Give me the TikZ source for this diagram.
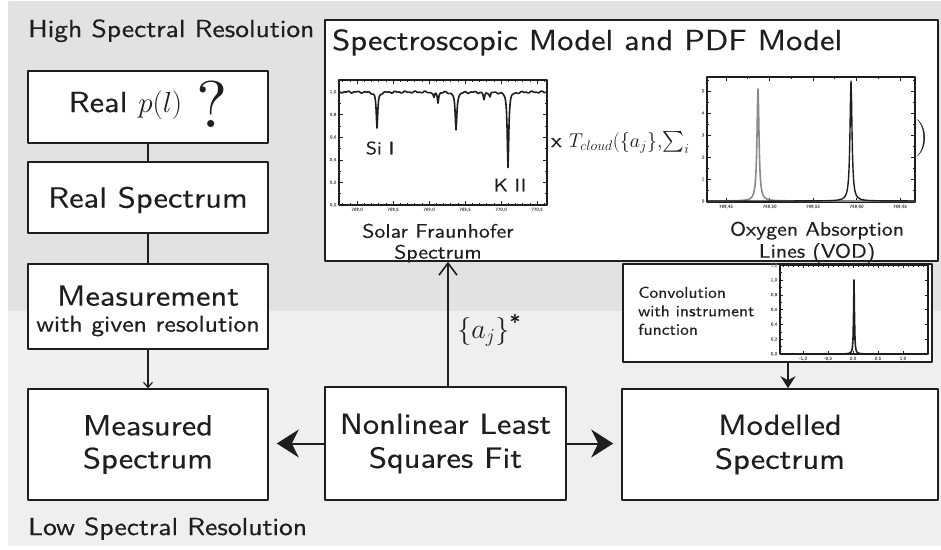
\RequirePackage{fix-cm}
\documentclass[tikz,border=0pt]{standalone}
\usepackage{exscale}
\usepackage{fontspec}
\setsansfont{lmsans10-regular.otf}[FakeStretch=1.12,FakeBold=0.35]
\setmainfont{lmroman10-regular.otf}
\renewcommand{\familydefault}{\sfdefault}
\usetikzlibrary{arrows.meta}
\definecolor{bandhi}{HTML}{E1E2E4}
\definecolor{bandlo}{HTML}{EEEFF1}
\definecolor{ink}{HTML}{1E1E1E}
\definecolor{ticktext}{HTML}{666666}
\definecolor{peakgray}{HTML}{8A8A8A}
\newcommand{\fsz}[2]{\fontsize{#1}{#2}\selectfont}
\begin{document}
\begin{tikzpicture}[x=1pt,y=-1pt,line join=round,
  declare function={lor(\dd,\ww)=\ww*\ww/(\ww*\ww+\dd*\dd);},
  box/.style={draw=ink,line width=1.6pt,fill=white,inner sep=0pt,align=center,text=ink},
  lbl/.style={inner sep=0pt,text=ink},
  conn/.style={draw=ink,line width=1.3pt},
  thinarrow/.style={draw=ink,line width=1.2pt,-{Straight Barb[length=5pt,width=9pt]}},
  uparrow/.style={draw=ink,line width=1.6pt,-{Straight Barb[length=12pt,width=18pt]}},
  convarrow/.style={draw=ink,line width=2pt,-{Stealth[length=12pt,width=15pt,inset=4pt]}},
  bigarrow/.style={draw=ink,line width=2pt,-{Stealth[length=22pt,width=28pt,inset=7pt]},shorten >=8pt},
  frame/.style={draw=ink,line width=1.1pt},
  tick/.style={draw=ink,line width=0.6pt},
  ticklab/.style={inner sep=0.5pt,text=ticktext,font=\fsz{4.5}{5}},
  specline/.style={draw=ink,line width=1.6pt}]
\useasboundingbox (0,0) rectangle (941,549);
\fill[bandhi] (8,1) rectangle (941,311);
\fill[bandlo] (8,311) rectangle (941,546);

% region labels
\node[lbl,anchor=base west,font=\fsz{24.6}{28}] (hi) at (28,37) {High Spectral Resolution};
\node[lbl,anchor=base west,font=\fsz{24.6}{28}] (lo) at (28,535) {Low Spectral Resolution};

% left column
\node[box,minimum width=240pt,minimum height=72pt,font=\fsz{29}{30},text height=22pt,text depth=12pt] (real) at (148,107)
  {Real $p(l)$\hspace{14pt}\raisebox{-15pt}[0pt][0pt]{\fsz{66}{66}\rmfamily ?}};
\node[box,minimum width=240pt,minimum height=71pt,font=\fsz{29}{30},text height=20pt,text depth=0pt] (realspec) at (148,197.5) {Real Spectrum};
\node[box,minimum width=240pt,minimum height=85pt,font=\fsz{29}{26}] (meas) at (148,306.5)
  {\rule{0pt}{29pt}Measurement\\{\fsz{23}{26}with given resolution}};
\node[box,minimum width=240pt,minimum height=111pt,font=\fsz{29}{33}] (measured) at (148,444.5) {Measured\\Spectrum};
\node[box,minimum width=241pt,minimum height=113pt,font=\fsz{29}{34}] (nlls) at (445.5,443.5) {Nonlinear Least\\Squares Fit};
\node[box,minimum width=316pt,minimum height=111pt,font=\fsz{29}{34}] (modelled) at (780,444.5) {Modelled\\Spectrum};

% spectroscopic model box
\node[box,minimum width=613pt,minimum height=241pt] (spec) at (631.5,140.5) {};
\node[lbl,anchor=base west,font=\fsz{29}{30}] (title) at (332,50) {Spectroscopic Model and PDF Model};

% convolution box
\node[box,minimum width=309pt,minimum height=98pt] (conv) at (777.5,313) {};
\node[lbl,anchor=north west,align=left,font=\fsz{15.7}{18.5}] (convtext) at (638,286.5) {Convolution\\with instrument\\function};

% ---------- solar spectrum plot ----------
\draw[frame] (339,80) rectangle (547,205);
\foreach \k in {-2,...,26} {
  \pgfmathtruncatemacro\m{mod(\k+10,5)==0}
  \pgfmathsetmacro\tl{2+2*\m}
  \pgfmathsetmacro\tx{357+7.2*\k}
  \draw[tick] (\tx,205) -- ++(0,-\tl) (\tx,80) -- ++(0,\tl);
}
\foreach \k in {1,...,10} {
  \pgfmathtruncatemacro\m{mod(\k,2)==0}
  \pgfmathsetmacro\tl{2+2*\m}
  \pgfmathsetmacro\ty{205-11.3*\k}
  \draw[tick] (339,\ty) -- ++(\tl,0) (547,\ty) -- ++(-\tl,0);
}
\foreach \i/\t in {0/{0,0},1/{0,2},2/{0,4},3/{0,6},4/{0,8},5/{1,0}}
  \node[ticklab,anchor=east] (sy\i) at (337,{205-22.6*\i}) {\t};
\foreach \i/\t in {0/{768,0},1/{768,5},2/{769,0},3/{769,5},4/{770,0},5/{770,5}}
  \node[ticklab,anchor=north] (sx\i) at ({357+36*\i},207) {\t};
\begin{scope}
\clip (339,80) rectangle (547,205);
\draw[specline] plot[domain=340:546,samples=413] (\x,{92+113*(
   0.32*lor(min(abs(\x-377),100),0.9)
  +0.05*lor(min(abs(\x-434),100),0.8)
  +0.09*lor(min(abs(\x-438),100),0.7)
  +0.34*lor(min(abs(\x-456),100),1.0)
  +0.07*lor(min(abs(\x-484),100),0.8)
  +0.04*lor(min(abs(\x-490),100),0.7)
  +0.66*lor(min(abs(\x-508),100),0.9))
  +0.6*sin((\x-340)*37)+0.4*sin((\x-340)*71)});
\end{scope}
\node[lbl,font=\fsz{18}{18}] (si) at (380,148) {Si I};
\node[lbl,font=\fsz{18}{18}] (kii) at (510,185) {K II};
\node[lbl,anchor=north,align=center,font=\fsz{19.5}{21}] (solarcap) at (438,223.5) {Solar Fraunhofer\\Spectrum};

% ---------- formula ----------
\node[lbl,anchor=base west,font=\fsz{20}{20}] (tcloud) at (551,147) {x $T_{cloud}(\{a_j\},\!\sum_i$};
\node[lbl,font=\fsz{37}{37}] (rparen) at (922,138) {$)$};

% ---------- oxygen plot ----------
\draw[frame] (707,77) rectangle (915,202);
\foreach \k in {0,...,8} {
  \pgfmathtruncatemacro\m{mod(\k,2)==0}
  \pgfmathsetmacro\tl{2+2*\m}
  \pgfmathsetmacro\tx{726+21.75*\k}
  \draw[tick] (\tx,202) -- ++(0,-\tl) (\tx,77) -- ++(0,\tl);
}
\foreach \k in {1,...,11} {
  \pgfmathtruncatemacro\m{mod(\k,2)==0}
  \pgfmathsetmacro\tl{2+2*\m}
  \pgfmathsetmacro\ty{201-11*\k}
  \draw[tick] (707,\ty) -- ++(\tl,0) (915,\ty) -- ++(-\tl,0);
}
\foreach \i in {0,...,5}
  \node[ticklab,anchor=east] (oy\i) at (705,{201-22*\i}) {\i};
\foreach \i/\t in {0/{768,45},1/{768,50},2/{768,55},3/{768,60},4/{768,65}}
  \node[ticklab,anchor=north] (ox\i) at ({726+43.5*\i},204) {\t};
\draw[draw=peakgray,line width=1.6pt] plot[domain=708:914,samples=413] (\x,{201-112*lor(min(abs(\x-758),100),1.2)});
\draw[draw=ink,line width=1.4pt] plot[domain=708:914,samples=413] (\x,{201-120*lor(min(abs(\x-851),100),1.2)});
\node[lbl,anchor=north,align=center,font=\fsz{19.5}{22}] (oxcap) at (817,221.5) {Oxygen Absorption\\Lines (VOD)};

% ---------- instrument function plot ----------
\draw[frame] (780,265) rectangle (928,354);
\foreach \k in {-14,...,14} {
  \pgfmathtruncatemacro\m{mod(\k+20,5)==0}
  \pgfmathsetmacro\tl{1.5+1.5*\m}
  \pgfmathsetmacro\tx{853+5*\k}
  \draw[tick] (\tx,354) -- ++(0,-\tl) (\tx,265) -- ++(0,\tl);
}
\foreach \k in {1,...,11} {
  \pgfmathtruncatemacro\m{mod(\k,2)==0}
  \pgfmathsetmacro\tl{1.5+1.5*\m}
  \pgfmathsetmacro\ty{354-7.4*\k}
  \draw[tick] (780,\ty) -- ++(\tl,0) (928,\ty) -- ++(-\tl,0);
}
\foreach \i/\t in {0/{0,0},1/{0,2},2/{0,4},3/{0,6},4/{0,8},5/{1,0},6/{1,2}}
  \node[ticklab,anchor=east] (cy\i) at (778,{354-14.8*\i}) {\t};
\foreach \i/\t in {0/{-1,0},1/{-0,5},2/{0,0},3/{0,5},4/{1,0}}
  \node[ticklab,anchor=north] (cx\i) at ({803+25*\i},356) {\t};
\draw[draw=ink,line width=1.6pt] plot[domain=781:927,samples=293] (\x,{354-74*lor(min(abs(\x-854),100),0.5)});

% ---------- connectors ----------
\draw[conn] (real) -- (realspec);
\draw[conn] (realspec) -- (meas);
\draw[thinarrow] (meas) -- (measured);
\draw[bigarrow] (nlls.west) -- (nlls.west -| measured.east);
\draw[bigarrow] (nlls.east) -- (nlls.east -| modelled.west);
\draw[uparrow] ([xshift=2.5pt]nlls.north) -- ([xshift=2.5pt]nlls.north |- spec.south);
\draw[convarrow] ([xshift=10.5pt]conv.south) -- ([xshift=10.5pt]conv.south |- modelled.north);
\node[lbl,font=\fsz{28}{28}] (aj) at (489,330) {$\{a_j\}$\raisebox{9pt}{\fsz{20}{20}*}};
\end{tikzpicture}
\end{document}
